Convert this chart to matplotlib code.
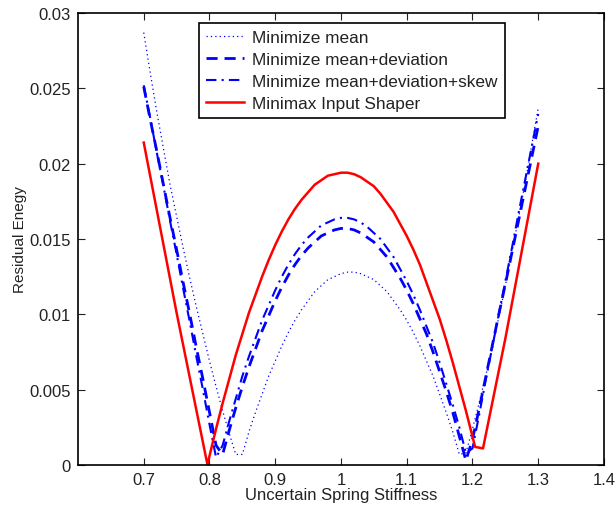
import matplotlib
matplotlib.use("Agg")
import matplotlib.pyplot as plt

plt.rcParams['font.family'] = ['Liberation Sans', 'DejaVu Sans']

# Shared stiffness grid for the three optimized shapers
k_blue = [0.70, 0.71, 0.72, 0.73, 0.74, 0.75, 0.76, 0.77, 0.78, 0.79,
          0.80, 0.81, 0.82, 0.83, 0.84, 0.85, 0.86, 0.87, 0.88, 0.89,
          0.90, 0.91, 0.92, 0.93, 0.94, 0.95, 0.96, 0.97, 0.98, 0.99,
          1.00, 1.01, 1.02, 1.03, 1.04, 1.05, 1.06, 1.07, 1.08, 1.09,
          1.10, 1.11, 1.12, 1.13, 1.14, 1.15, 1.16, 1.17, 1.18, 1.19,
          1.20, 1.21, 1.22, 1.23, 1.24, 1.25, 1.26, 1.27, 1.28, 1.29, 1.30]

mean_vals = [0.0287, 0.0260, 0.0234, 0.0210, 0.0186, 0.0165, 0.0144, 0.0124, 0.0105, 0.0087,
             0.0069, 0.0052, 0.0036, 0.0021, 0.0007, 0.0007, 0.0022, 0.0035, 0.0047, 0.0059,
             0.0069, 0.0079, 0.0088, 0.0096, 0.0103, 0.0109, 0.0115, 0.0119, 0.0123, 0.0125,
             0.0127, 0.0128, 0.0128, 0.0127, 0.0125, 0.0123, 0.0119, 0.0115, 0.0109, 0.0103,
             0.0096, 0.0088, 0.0079, 0.0069, 0.0059, 0.0047, 0.0035, 0.0022, 0.0007, 0.0008,
             0.0024, 0.0041, 0.0059, 0.0078, 0.0098, 0.0119, 0.0141, 0.0164, 0.0187, 0.0212, 0.0237]

mean_dev_vals = [0.0251, 0.0229, 0.0208, 0.0186, 0.0164, 0.0143, 0.0121, 0.0100, 0.0078, 0.0057,
                 0.0035, 0.0013, 0.0007, 0.0023, 0.0038, 0.0052, 0.0065, 0.0077, 0.0089, 0.0099,
                 0.0109, 0.0118, 0.0126, 0.0133, 0.0139, 0.0144, 0.0148, 0.0152, 0.0154, 0.0156,
                 0.0157, 0.0157, 0.0156, 0.0154, 0.0151, 0.0148, 0.0143, 0.0138, 0.0131, 0.0124,
                 0.0116, 0.0107, 0.0097, 0.0087, 0.0075, 0.0062, 0.0049, 0.0035, 0.0019, 0.0003,
                 0.0017, 0.0037, 0.0058, 0.0079, 0.0100, 0.0120, 0.0141, 0.0162, 0.0183, 0.0204, 0.0225]

mean_dev_skew_vals = [0.0252, 0.0230, 0.0207, 0.0185, 0.0162, 0.0140, 0.0117, 0.0095, 0.0072, 0.0050,
                      0.0027, 0.0005, 0.0013, 0.0029, 0.0044, 0.0059, 0.0072, 0.0084, 0.0096, 0.0106,
                      0.0116, 0.0125, 0.0133, 0.0140, 0.0146, 0.0151, 0.0155, 0.0159, 0.0161, 0.0163,
                      0.0164, 0.0164, 0.0163, 0.0161, 0.0158, 0.0154, 0.0150, 0.0144, 0.0138, 0.0130,
                      0.0122, 0.0113, 0.0103, 0.0092, 0.0081, 0.0068, 0.0054, 0.0040, 0.0025, 0.0008,
                      0.0011, 0.0033, 0.0056, 0.0078, 0.0100, 0.0122, 0.0144, 0.0167, 0.0189, 0.0211, 0.0233]

k_red = [0.70, 0.75, 0.797, 0.80, 0.81, 0.82, 0.83, 0.84, 0.85, 0.86, 0.87, 0.88, 0.89,
         0.90, 0.91, 0.92, 0.93, 0.94, 0.95, 0.96, 0.97, 0.98, 0.99,
         1.00, 1.01, 1.02, 1.03, 1.04, 1.05, 1.06, 1.07, 1.08, 1.09,
         1.10, 1.11, 1.12, 1.13, 1.14, 1.15, 1.16, 1.17, 1.18, 1.19,
         1.204, 1.216, 1.25, 1.30]
minimax_vals = [0.0214, 0.0101, 0.0, 0.0006, 0.0024, 0.0041, 0.0057, 0.0073, 0.0087, 0.0101, 0.0113, 0.0125, 0.0136,
                0.0146, 0.0155, 0.0163, 0.0170, 0.0176, 0.0181, 0.0186, 0.0189, 0.0192, 0.0193,
                0.0194, 0.0194, 0.0193, 0.0191, 0.0188, 0.0185, 0.0180, 0.0174, 0.0168, 0.0160,
                0.0152, 0.0143, 0.0133, 0.0121, 0.0109, 0.0097, 0.0083, 0.0068, 0.0052, 0.0036,
                0.0012, 0.0011, 0.0084, 0.0200]

labels = ['Minimize mean', 'Minimize mean+deviation',
          'Minimize mean+deviation+skew', 'Minimax Input Shaper']
xticks = [0.7, 0.8, 0.9, 1.0, 1.1, 1.2, 1.3, 1.4]
xtick_labels = ['0.7', '0.8', '0.9', '1', '1.1', '1.2', '1.3', '1.4']
yticks = [0, 0.005, 0.01, 0.015, 0.02, 0.025, 0.03]
ytick_labels = ['0', '0.005', '0.01', '0.015', '0.02', '0.025', '0.03']

fig = plt.figure(figsize=(6.16, 5.10), dpi=100)
ax = fig.add_axes([0.1266, 0.0863, 0.8539, 0.8863])

ax.plot(k_blue, mean_vals, color='blue', linestyle=(0, (1, 2.5)), linewidth=0.9, label=labels[0])
ax.plot(k_blue, mean_dev_vals, color='blue', linestyle=(0, (4, 2.5)), linewidth=2.0, label=labels[1])
ax.plot(k_blue, mean_dev_skew_vals, color='blue', linestyle=(0, (5, 2.5, 1, 2.5)), linewidth=1.5, label=labels[2])
ax.plot(k_red, minimax_vals, color='red', linestyle='-', linewidth=1.8, label=labels[3])

ax.set_xlim(0.6, 1.4)
ax.set_ylim(0, 0.03)
ax.set_xticks(xticks)
ax.set_xticklabels(xtick_labels)
ax.set_yticks(yticks)
ax.set_yticklabels(ytick_labels)
ax.tick_params(direction='in', top=True, right=True, labelsize=12, length=5, width=0.8,
               colors='#222222', pad=5)
for s in ax.spines.values():
    s.set_linewidth(1.2)
    s.set_color('black')

ax.set_xlabel('Uncertain Spring Stiffness', fontsize=12, labelpad=0, color='#222222')
ax.set_ylabel('Residual Enegy', fontsize=11, color='#222222')
ax.yaxis.set_label_coords(-0.097, 0.5)

leg = ax.legend(loc='upper left', bbox_to_anchor=(0.230, 0.978), fontsize=12.4,
                frameon=True, fancybox=False, edgecolor='black', framealpha=1,
                handlelength=2.2, borderpad=0.4, labelspacing=0.4, handletextpad=0.5,
                borderaxespad=0)
leg.get_frame().set_linewidth(1.2)
for t in leg.get_texts():
    t.set_color('#222222')

fig.savefig('out.png', dpi=100)
